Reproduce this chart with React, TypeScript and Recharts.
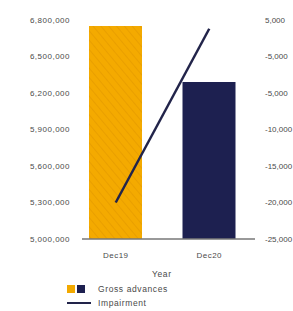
import {
  ComposedChart,
  Bar,
  Line,
  XAxis,
  YAxis,
  Cell,
} from "recharts";

const YEARS = ["Dec19", "Dec20"];
const GROSS_ADVANCES = [6750000, 6290000];
const IMPAIRMENT = [-20000, 3800];

const LEFT_TICKS = [5000000, 5300000, 5600000, 5900000, 6200000, 6500000, 6800000];
const RIGHT_TICKS = [5000, 0, -5000, -10000, -15000, -20000, -25000];
const RIGHT_TICK_LABELS = ["5,000", "-5,000", "-5,000", "-10,000", "-15,000", "-20,000", "-25,000"];

const BAR_COLORS = ["url(#amberStripes)", "#1d2050"];
const LINE_COLOR = "#22244a";
const FONT = '"Liberation Sans", Arial, sans-serif';
const TICK_STYLE = { fontSize: 8, fill: "#4a4a4a", fontFamily: FONT, letterSpacing: 0.5 };

const data = YEARS.map((year, i) => ({
  year,
  gross: GROSS_ADVANCES[i],
  impairment: IMPAIRMENT[i],
}));

// legend sits under the plot, drawn as plain html so it doesn't eat plot height
const LegendBox = () => (
  <div style={{ position: "absolute", left: 0, top: 263, width: 293, height: 46, fontFamily: FONT, fontSize: 8.5, color: "#4a4a4a", letterSpacing: 0.6 }}>
    <div style={{ position: "absolute", left: 152, top: 6 }}>Year</div>
    <div style={{ position: "absolute", left: 67, top: 21, display: "flex", alignItems: "center" }}>
      <span style={{ width: 8, height: 8, background: "#f2a900", display: "inline-block" }} />
      <span style={{ width: 8, height: 8, background: "#1d2050", display: "inline-block", marginLeft: 2 }} />
      <span style={{ marginLeft: 13 }}>Gross advances</span>
    </div>
    <div style={{ position: "absolute", left: 67, top: 35, display: "flex", alignItems: "center" }}>
      <span style={{ width: 24, height: 2.5, background: LINE_COLOR, display: "inline-block" }} />
      <span style={{ marginLeft: 7 }}>Impairment</span>
    </div>
  </div>
);

export default function App() {
  return (
    <div style={{ position: "absolute", left: 0, top: 0, width: 293, height: 311, background: "#fff" }}>
      <ComposedChart
        width={293}
        height={311}
        data={data}
        margin={{ top: 20, right: 0, bottom: 42, left: 0 }}
        barCategoryGap={0}
      >
        <defs>
          {/* faint "\" stripes like the printed amber bar */}
          <pattern id="amberStripes" width="6" height="6" patternUnits="userSpaceOnUse" patternTransform="rotate(-40)">
            <rect width="6" height="6" fill="#f4aa00" />
            <line x1="0" y1="0" x2="0" y2="6" stroke="#e59a00" strokeWidth="1.4" />
          </pattern>
        </defs>
        <XAxis
          dataKey="year"
          height={30}
          padding={{ left: -13, right: -1 }}
          tickLine={false}
          axisLine={{ stroke: "#777", strokeWidth: 1.5 }}
          tick={TICK_STYLE}
          tickSize={0}
          tickMargin={13}
        />
        <YAxis
          yAxisId="left"
          orientation="left"
          width={82}
          domain={[5000000, 6800000]}
          ticks={LEFT_TICKS}
          interval={0}
          axisLine={false}
          tickLine={false}
          tickSize={0}
          tickMargin={12}
          tick={TICK_STYLE}
          tickFormatter={(v: number) => v.toLocaleString("en-US")}
        />
        <YAxis
          yAxisId="right"
          orientation="right"
          width={38}
          domain={[-25000, 5000]}
          ticks={RIGHT_TICKS}
          interval={0}
          axisLine={false}
          tickLine={false}
          tickSize={0}
          tickMargin={10}
          tick={{ ...TICK_STYLE, letterSpacing: 0, textAnchor: "start" }}
          tickFormatter={(v: number) => RIGHT_TICK_LABELS[RIGHT_TICKS.indexOf(v)] ?? String(v)}
        />
        <Bar yAxisId="left" dataKey="gross" barSize={53} isAnimationActive={false}>
          {data.map((d, i) => (
            <Cell key={d.year} fill={BAR_COLORS[i]} />
          ))}
        </Bar>
        <Line
          yAxisId="right"
          dataKey="impairment"
          type="linear"
          stroke={LINE_COLOR}
          strokeWidth={2.5}
          dot={false}
          activeDot={false}
          isAnimationActive={false}
        />
      </ComposedChart>
      <LegendBox />
    </div>
  );
}
